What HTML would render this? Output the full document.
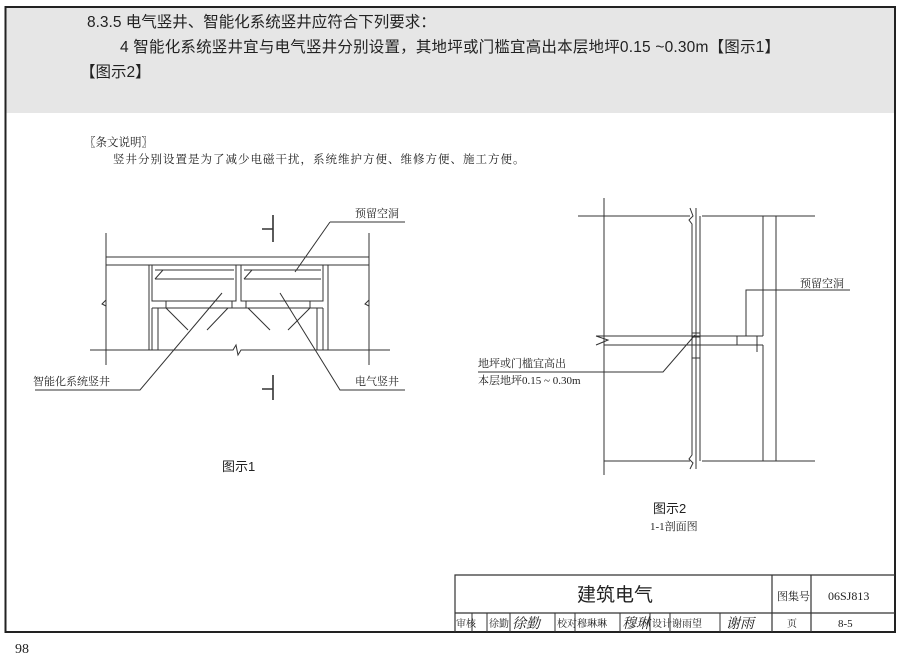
<!DOCTYPE html>
<html><head><meta charset="utf-8"><style>
body{margin:0;background:#fff;}
svg text{font-family:"Liberation Serif","Noto Serif CJK SC","Noto Sans CJK SC",serif;fill:#222;}
.s{font-family:"Liberation Sans","Noto Sans CJK SC",sans-serif !important;}
</style></head><body>
<svg width="901" height="658" viewBox="0 0 901 658" xmlns="http://www.w3.org/2000/svg">
<rect x="0" y="0" width="901" height="658" fill="#fff"/>
<rect x="6" y="7" width="889" height="106" fill="#e6e6e6"/>
<rect x="5.5" y="7" width="889.5" height="625" fill="none" stroke="#222" stroke-width="2"/>
<text class="s" x="87" y="27" font-size="15.5">8.3.5  电气竖井、智能化系统竖井应符合下列要求：</text>
<text class="s" x="120" y="52" font-size="15.5" textLength="660">4  智能化系统竖井宜与电气竖井分别设置，其地坪或门槛宜高出本层地坪0.15 ~0.30m【图示1】</text>
<text class="s" x="80" y="77" font-size="15.5">【图示2】</text>
<text x="84" y="146" font-size="11.5">〖条文说明〗</text>
<text x="113" y="163" font-size="11.5" letter-spacing="1">竖井分别设置是为了减少电磁干扰，系统维护方便、维修方便、施工方便。</text>
<g stroke="#333" stroke-width="1" fill="none">
<!-- figure 1 -->
<path d="M106 233V365M369 233V365M106 257H369M106 265H369"/>
<path d="M106 300l-4 4 4 2M369 300l-4 4 4 2"/>
<path d="M90 350H233l3 -5 2 10 3 -5H390"/>
<path d="M149 265V350M328 265V350"/>
<rect x="152" y="265" width="84" height="36"/>
<rect x="241" y="265" width="82" height="36"/>
<path d="M155 279H234M244 279H321M155 270H234M244 270H321M155 279l8 -9M244 279l8 -9"/>
<path d="M152 308H323M152 308V350M158 308V350M317 308V350M323 308V350"/>
<path d="M166 308l22 22M228 308l-21 22M248 308l22 22M310 308l-22 22"/>
<path d="M232 301v7M246 301v7M166 301v7M310 301v7"/>
<path d="M273 215V242M262 229H273M273 375V400M262 389H273" stroke-width="1.6"/>
<path d="M330 222H405M330 222L295 272"/>
<path d="M35 390H140L222 293"/>
<path d="M405 390H340L280 293"/>
<!-- figure 2 -->
<path d="M604 198V475"/>
<path d="M578 216H690M702 216H815M604 461H690M702 461H815"/>
<path d="M690 208l3 8-4 4 3 4V455l-3 4 4 4-3 6M696 208V469M700 216V461"/>
<path d="M763 216V336M763 345V461M776 216V461"/>
<path d="M596 336H737M604 345H737M596 336l12 4-12 5"/>
<rect x="692" y="333" width="8" height="4"/>
<rect x="692" y="345" width="8" height="13"/>
<path d="M737 336V345M737 336H763M737 345H763M757 336V352"/>
<path d="M746 336V290H850"/>
<path d="M478 372H663L695 335"/>
<!-- title block -->
<path d="M455 632V575H895M455 613H895M772 575V632M811 575V632" stroke-width="1.2"/>
<path d="M472 613V632M487 613V632M510 613V632M555 613V632M575 613V632M620 613V632M650 613V632M670 613V632M720 613V632"/>
</g>
<text x="355" y="217" font-size="11">预留空洞</text>
<text x="33" y="385" font-size="11">智能化系统竖井</text>
<text x="355" y="385" font-size="11">电气竖井</text>
<text class="s" x="222" y="471" font-size="13">图示1</text>
<text x="800" y="287" font-size="11">预留空洞</text>
<text x="478" y="367" font-size="11">地坪或门槛宜高出</text>
<text x="478" y="384" font-size="11">本层地坪0.15 ~ 0.30m</text>
<text class="s" x="653" y="513" font-size="13">图示2</text>
<text x="650" y="530" font-size="11">1-1剖面图</text>
<text class="s" x="577" y="601" font-size="19">建筑电气</text>
<text x="777" y="600" font-size="11">图集号</text>
<text x="828" y="600" font-size="12">06SJ813</text>
<text x="456" y="627" font-size="10">审核</text>
<text x="489" y="627" font-size="10">徐勤</text>
<text x="512" y="628" font-size="14" font-style="italic">徐勤</text>
<text x="557" y="627" font-size="10">校对</text>
<text x="577" y="627" font-size="10">穆琳琳</text>
<text x="622" y="628" font-size="14" font-style="italic">穆琳</text>
<text x="652" y="627" font-size="10">设计</text>
<text x="672" y="627" font-size="10">谢雨望</text>
<text x="726" y="628" font-size="14" font-style="italic">谢雨</text>
<text x="787" y="627" font-size="10">页</text>
<text x="838" y="627" font-size="11">8-5</text>
<text x="15" y="653" font-size="14">98</text>
</svg>
</body></html>
